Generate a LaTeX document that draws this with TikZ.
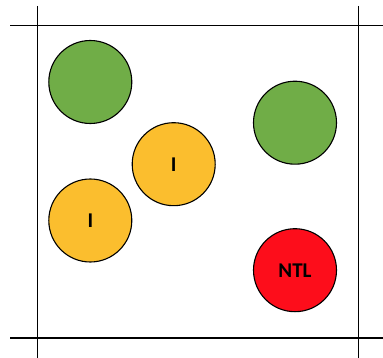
\documentclass[tikz,border=0pt]{standalone}
\usepackage{fontspec}
\setmainfont{Carlito}
\definecolor{dotgreen}{RGB}{112,173,71}
\definecolor{dotyellow}{RGB}{251,190,46}
\definecolor{dotred}{RGB}{253,13,27}
\begin{document}
\begin{tikzpicture}[x=1pt,y=-1pt,
  gridline/.style={line width=1.4pt,draw=black},
  dot/.style={circle,draw=black,line width=1.1pt,minimum size=83pt,inner sep=0pt,
    font=\fontsize{21}{24}\selectfont\bfseries}]
\useasboundingbox (0,0) rectangle (383,358);
\fill[white] (0,0) rectangle (383,358);
\draw[gridline] (37.7,6) -- (37.7,358);
\draw[gridline] (358.7,6) -- (358.7,358);
\draw[gridline] (10,25.3) -- (383,25.3);
\draw[gridline] (10,338) -- (383,338);
\node[dot,fill=dotgreen] (g1) at (90.3,82) {};
\node[dot,fill=dotgreen] (g2) at (295,122.7) {};
\node[dot,fill=dotyellow] (y1) at (173.7,164.2) {I};
\node[dot,fill=dotyellow] (y2) at (90.3,220.5) {I};
\node[dot,fill=dotred] (r1) at (295,270.2) {NTL};
\end{tikzpicture}
\end{document}
